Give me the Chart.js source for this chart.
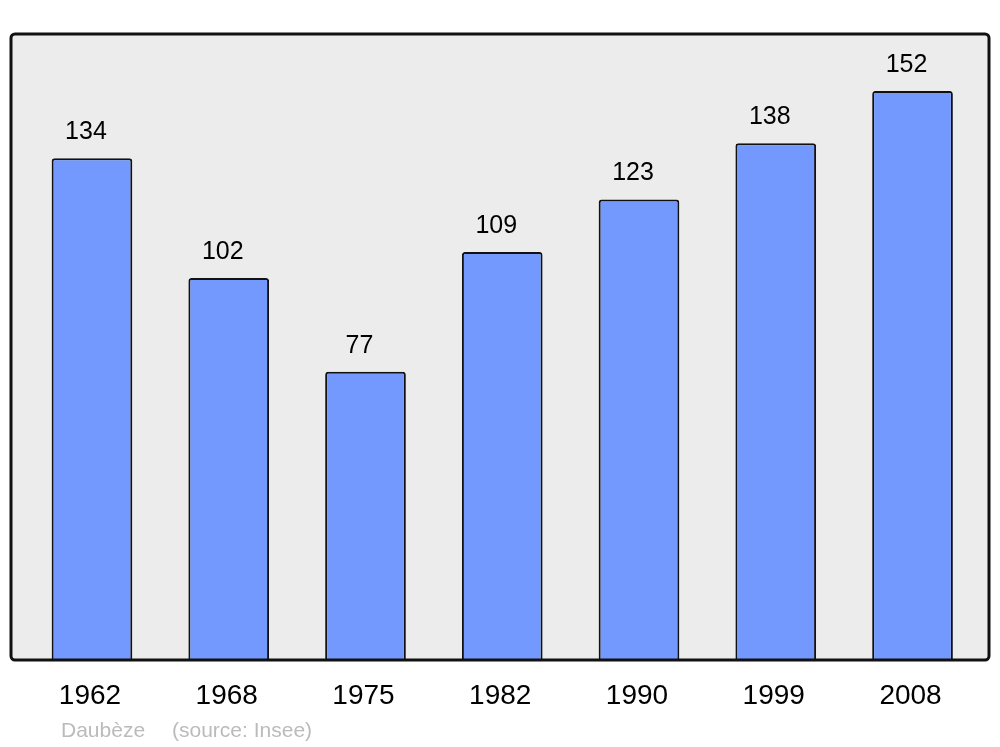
<!DOCTYPE html>
<html>
<head>
<meta charset="utf-8">
<script src="https://cdn.jsdelivr.net/npm/chart.js@4"></script>
<style>
  html, body { margin: 0; padding: 0; background: #fff; }
  #wrap { width: 1000px; height: 747px; position: relative; }
</style>
</head>
<body>
<div id="wrap"><canvas id="chart" width="1000" height="747"></canvas></div>
<script>
const years = ['1962', '1968', '1975', '1982', '1990', '1999', '2008'];
const population = [134, 102, 77, 109, 123, 138, 152];
const footerName = 'Daubèze';
const footerSource = '(source: Insee)';

// grey frame behind the bars
const framePlugin = {
    id: 'frame',
    beforeDraw(chart) {
        const ctx = chart.ctx;
        const area = chart.chartArea;
        const x0 = 11, x1 = 989, y0 = area.top, y1 = area.bottom;
        ctx.save();
        ctx.beginPath();
        ctx.roundRect(x0, y0, x1 - x0, y1 - y0, 4);
        ctx.fillStyle = '#ececec';
        ctx.fill();
        ctx.restore();
    },
    afterDatasetsDraw(chart) {
        const ctx = chart.ctx;
        const area = chart.chartArea;
        const x0 = 11, x1 = 989, y0 = area.top, y1 = area.bottom;
        ctx.save();
        ctx.beginPath();
        ctx.roundRect(x0, y0, x1 - x0, y1 - y0, 4);
        ctx.lineWidth = 3;
        ctx.strokeStyle = '#111';
        ctx.stroke();
        ctx.restore();
    }
};

// value labels, year labels and footer
const labelsPlugin = {
    id: 'labels',
    afterDraw(chart) {
        const ctx = chart.ctx;
        const xs = chart.scales.x, ys = chart.scales.y;
        ctx.save();
        ctx.fillStyle = '#000';
        ctx.textAlign = 'center';
        ctx.textBaseline = 'alphabetic';
        ctx.font = '25px "Liberation Sans", Arial, sans-serif';
        population.forEach((v, i) => {
            ctx.fillText(String(v), xs.getPixelForValue(i) - 6, ys.getPixelForValue(v) - 19);
        });
        ctx.font = '28px "Liberation Sans", Arial, sans-serif';
        ctx.textBaseline = 'middle';
        years.forEach((y, i) => {
            ctx.fillText(y, xs.getPixelForValue(i) - 2, 696);
        });
        ctx.font = '21px "Liberation Sans", Arial, sans-serif';
        ctx.fillStyle = '#bbbbbb';
        ctx.textAlign = 'left';
        ctx.fillText(footerName, 61, 731);
        ctx.fillText(footerSource, 172, 731);
        ctx.restore();
    }
};

new Chart(document.getElementById('chart'), {
    type: 'bar',
    data: {
        labels: years,
        datasets: [{
            data: population,
            backgroundColor: '#7399ff',
            borderColor: '#111',
            borderWidth: 2,
            borderSkipped: 'bottom',
            borderRadius: 3,
            categoryPercentage: 1,
            barPercentage: 0.59,
        }],
    },
    options: {
        responsive: false,
        animation: false,
        layout: { padding: { left: 23.6, right: 19.1, top: 34, bottom: 87 } },
        scales: {
            x: { display: false, offset: true },
            y: { display: false, min: 0, max: 167.2 },
        },
        plugins: {
            legend: { display: false },
            tooltip: { enabled: false },
        },
    },
    plugins: [framePlugin, labelsPlugin],
});
</script>
</body>
</html>
